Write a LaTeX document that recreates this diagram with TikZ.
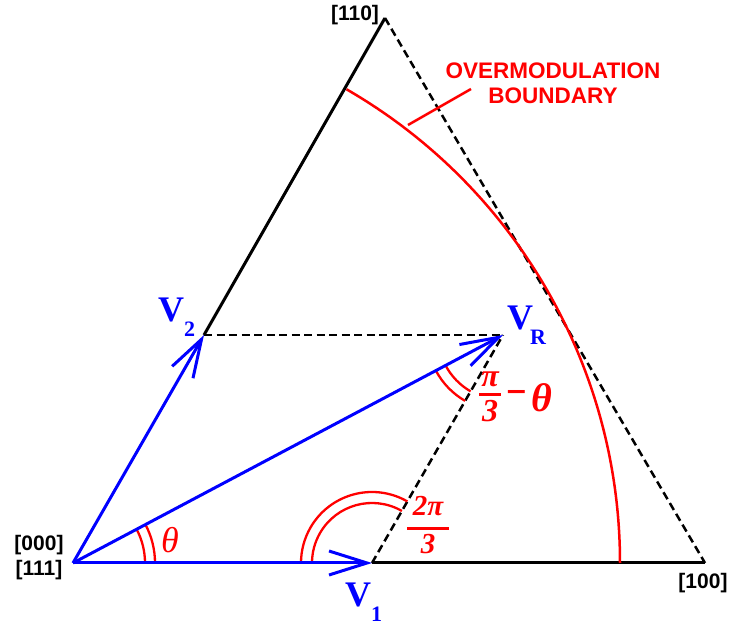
\documentclass[tikz,border=0pt]{standalone}
\usepackage{fontspec}
\setmainfont{Liberation Serif}
\newfontfamily\arialfam{Liberation Sans}
\newfontfamily\dejavufam{DejaVu Sans}
\usetikzlibrary{arrows.meta,calc}
\newcommand\vsub[3][0pt]{#2\kern#1\raisebox{-15pt}{\fontsize{22}{22}\selectfont #3}}
\tikzset{
  blk/.style={line width=3pt, black},
  vec/.style={line width=3pt, blue, -{Straight Barb[length=38pt,width=24pt,line width=3pt]}},
  dsh/.style={line width=2.5pt, black, dash pattern=on 8pt off 4.5pt},
  redarc/.style={line width=2.5pt, red},
  angarc/.style={line width=2.3pt, red},
  corner/.style={font=\arialfam\bfseries\fontsize{21}{21}\selectfont, text=black, inner sep=0pt},
  boundlab/.style={font=\arialfam\bfseries\fontsize{22.5}{25}\selectfont, text=red, align=center, inner sep=0pt},
  vlab/.style={font=\bfseries\fontsize{36}{36}\selectfont, text=blue, anchor=base west, inner sep=0pt},
  anglab/.style={text=red, inner sep=0pt},
}
\begin{document}
\begin{tikzpicture}[x=1pt,y=1pt]
\useasboundingbox[fill=white] (0,0) rectangle (732,627);
% points
\coordinate (O) at (73,64);
\coordinate (A) at (705,64);
\coordinate (B) at (385,609);
\coordinate (V1) at (372,64);
\coordinate (V2) at (204,292);
\coordinate (VR) at (503,292);
\coordinate (L1) at (408,502);
\coordinate (L2) at (471,538);
% triangle
\draw[blk] (V2) -- (B);
\draw[blk] (V1) -- (A);
\draw[dsh] (B) -- (A);
\draw[dsh] (V2) -- (VR);
\draw[dsh] (V1) -- (VR);
% overmodulation boundary
\draw[redarc] ($(O)+(0:547)$) arc[start angle=0, end angle=60, radius=547];
\draw[redarc] (L1) -- (L2);
% angle arcs
\draw[angarc] ($(O)+(0:82)$) arc[start angle=0, end angle=27.93, radius=82];
\draw[angarc] ($(O)+(0:72)$) arc[start angle=0, end angle=27.93, radius=72];
\draw[angarc] ($(V1)+(60.1:71)$) arc[start angle=60.1, end angle=180, radius=71];
\draw[angarc] ($(V1)+(60.1:60)$) arc[start angle=60.1, end angle=180, radius=60];
\draw[angarc] ($(VR)+(207.93:76)$) arc[start angle=207.93, end angle=240.1, radius=76];
\draw[angarc] ($(VR)+(207.93:65)$) arc[start angle=207.93, end angle=240.1, radius=65];
% vectors
\draw[vec] (O) -- (V1);
\draw[vec] (O) -- (V2);
\draw[vec] (O) -- (VR);
% corner labels
\node[corner] (c000) at (39,82) {[000]};
\node[corner] (c111) at (39,57) {[111]};
\node[corner] (c110) at (355,612) {[110]};
\node[corner] (c100) at (703,44) {[100]};
\node[boundlab] (ob) at (553,544) {OVERMODULATION\\BOUNDARY};
% vector labels
\node[vlab] (lv2) at (158,305) {\vsub{V}{2}};
\node[vlab] (lv1) at (345,20) {\vsub{V}{1}};
\node[vlab] (lvr) at (507,297) {\vsub[-3pt]{V}{R}};
% angle labels
\node[anglab, font=\itshape\fontsize{36}{36}\selectfont] (th) at (170,87) {θ};
\node[anglab, font=\bfseries\itshape\fontsize{29}{29}\selectfont] (n2pi) at (428,120.5) {2π};
\node[anglab, font=\bfseries\itshape\fontsize{29}{29}\selectfont] (d3a) at (428,83) {3};
\draw[red, line width=3pt] (407,98) -- (449,98);
\node[anglab, font=\bfseries\itshape\fontsize{32}{32}\selectfont] (npi) at (490,247.5) {π};
\node[anglab, font=\bfseries\itshape\fontsize{32}{32}\selectfont] (d3b) at (490,216) {3};
\draw[red, line width=3pt] (479,232) -- (501,232);
\node[anglab, font=\dejavufam\bfseries\fontsize{27}{27}\selectfont] (mn) at (516.5,232) {−};
\node[anglab, font=\bfseries\itshape\fontsize{40}{40}\selectfont] (th2) at (541.5,229.5) {θ};
\end{tikzpicture}
\end{document}
